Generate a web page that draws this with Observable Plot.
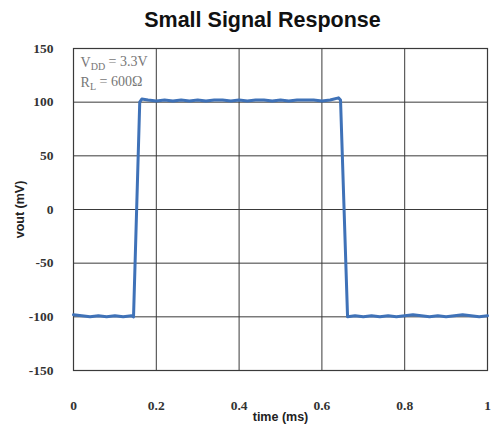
<!DOCTYPE html>
<html><head><meta charset="utf-8">
<script src="https://cdn.jsdelivr.net/npm/d3@7"></script>
<script src="https://cdn.jsdelivr.net/npm/@observablehq/plot@0.6"></script>
<style>
body{margin:0;background:#fff;width:497px;height:441px;overflow:hidden}
#title{height:38px;line-height:40px;text-align:center;font-family:"Liberation Sans",Arial,sans-serif;font-weight:bold;font-size:21.5px;color:#111;padding-left:28px}
</style></head><body>
<div id="title">Small Signal Response</div>
<div id="chart"></div>
<script>
const time = [0,0.02,0.04,0.06,0.08,0.10,0.12,0.14,0.145,0.16,0.165,
  0.18,0.20,0.22,0.24,0.26,0.28,0.30,0.32,0.34,0.36,0.38,0.40,0.42,0.44,0.46,0.48,0.50,0.52,0.54,0.56,0.58,0.60,0.62,0.64,
  0.645,0.662,
  0.68,0.70,0.72,0.74,0.76,0.78,0.80,0.82,0.84,0.86,0.88,0.90,0.92,0.94,0.96,0.98,1.0];
const vout = [-98,-99,-100,-99,-100,-99,-100,-99,-100,100,103,
  102,101,102,101,102,101,102,101,102,102,101,102,101,102,102,101,102,101,102,102,102,101,102,104,
  102,-100,
  -99,-100,-99,-100,-99,-100,-99,-98,-99,-100,-99,-100,-99,-98,-99,-100,-99];
const xTicks = [0,0.2,0.4,0.6,0.8,1];
const xTickLabels = ["0","0.2","0.4","0.6","0.8","1"];
const yTicks = [-150,-100,-50,0,50,100,150];
const yTickLabels = ["-150","-100","-50","0","50","100","150"];
const notes = [
  {t:0.017, v:137, label:"VDD = 3.3V", main:"V", sub:"DD", rest:" = 3.3V"},
  {t:0.017, v:118, label:"RL = 600Ω", main:"R", sub:"L", rest:" = 600Ω"}
];
const data = time.map((t,i)=>({t, v:vout[i]}));

const chart = Plot.plot({
  width:497, height:403,
  marginTop:10, marginBottom:71, marginLeft:73, marginRight:10,
  x:{domain:[0,1]},
  y:{domain:[-150,150]},
  style:{background:"transparent"},
  marks:[
    Plot.gridX(xTicks,{stroke:"#3a3a3a",strokeOpacity:1,strokeWidth:1}),
    Plot.gridY(yTicks,{stroke:"#3a3a3a",strokeOpacity:1,strokeWidth:1}),
    Plot.frame({stroke:"#3a3a3a",strokeWidth:1.2}),
    Plot.axisX({ticks:xTicks,tickFormat:d=>xTickLabels[xTicks.indexOf(d)],tickSize:0,tickPadding:30,
      fontFamily:"Liberation Serif, serif",fontSize:13.5,fontWeight:"bold",fill:"#333",
      label:"time (ms)",labelAnchor:"center",labelArrow:false,labelOffset:50}),
    Plot.axisY({ticks:yTicks,tickFormat:d=>yTickLabels[yTicks.indexOf(d)],tickSize:0,tickPadding:20,
      fontFamily:"Liberation Serif, serif",fontSize:13.5,fontWeight:"bold",fill:"#333",
      label:"vout (mV)",labelAnchor:"center",labelArrow:false,labelOffset:58}),
    Plot.line(data,{x:"t",y:"v",stroke:"#3f72b8",strokeWidth:3,strokeLinejoin:"round"}),
    Plot.text(notes,{x:"t",y:"v",text:"label",textAnchor:"start",fontFamily:"Liberation Serif, serif",fontSize:14,fill:"#777",className:"note"})
  ]
});
document.getElementById("chart").appendChild(chart);
d3.select(chart).selectAll("[aria-label='x-axis label'] text, [aria-label='y-axis label'] text")
  .attr("font-family","Liberation Sans, Arial, sans-serif").attr("font-size",12.5).attr("font-weight","bold").attr("fill","#222");
d3.select(chart).selectAll("g.note text").each(function(d,i){
  const n = notes[i];
  const el = d3.select(this); el.text(null);
  el.append("tspan").text(n.main);
  el.append("tspan").text(n.sub).attr("font-size",10).attr("dy","0.3em");
  el.append("tspan").text(n.rest).attr("dy","-0.3em");
});
</script>
</body></html>
